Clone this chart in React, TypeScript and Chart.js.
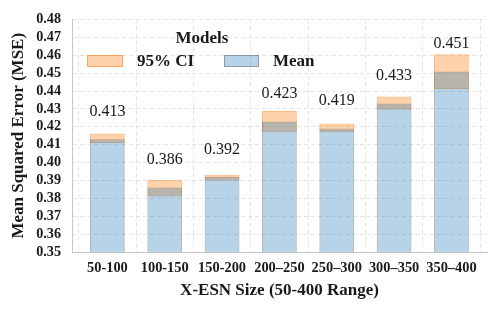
import { useEffect, useRef } from 'react';
import { Chart, registerables } from 'chart.js';

Chart.register(...registerables);

const categories = ['50-100', '100-150', '150-200', '200–250', '250–300', '300–350', '350–400'];
const meanValues = [0.413, 0.386, 0.392, 0.423, 0.419, 0.433, 0.451];
const ciLow = [0.411, 0.381, 0.3898, 0.417, 0.417, 0.4295, 0.4412];
const ciHigh = [0.4162, 0.3904, 0.3932, 0.4289, 0.4219, 0.4369, 0.4606];
const yMin = 0.35;
const yMax = 0.48;
const yStep = 0.01;
const legendTitle = 'Models';
const ciLabel = '95% CI';
const meanLabel = 'Mean';
const xTitle = 'X-ESN Size (50-400 Range)';
const yTitle = 'Mean Squared Error (MSE)';

const FONT = "'Liberation Serif', 'Times New Roman', serif";
const TEXT = '#1a1a1a';
const BLUE_FILL = 'rgba(31,119,180,0.32)';
const BLUE_EDGE = 'rgba(90,90,90,0.45)';
const ORANGE_FILL = 'rgba(255,127,14,0.35)';
const ORANGE_EDGE = 'rgba(245,130,30,0.55)';
const GRID = '#e4e4e4';
const SPINE = '#c6c6c6';

const valueLabels = {
  id: 'valueLabels',
  afterDatasetsDraw(chart: any) {
    const { ctx, scales } = chart;
    ctx.save();
    ctx.font = `16px ${FONT}`;
    ctx.fillStyle = TEXT;
    ctx.textAlign = 'center';
    ctx.textBaseline = 'middle';
    meanValues.forEach((v, i) => {
      const x = scales.x.getPixelForValue(i);
      const y = scales.y.getPixelForValue(v + 0.0153);
      ctx.fillText(v.toFixed(3), x, y);
    });
    ctx.restore();
  },
};

const insideLegend = {
  id: 'insideLegend',
  afterDraw(chart: any) {
    const { ctx } = chart;
    ctx.save();
    ctx.fillStyle = TEXT;
    ctx.font = `bold 17px ${FONT}`;
    ctx.textAlign = 'center';
    ctx.textBaseline = 'middle';
    ctx.fillText(legendTitle, 202, 38.5);

    ctx.lineWidth = 1;
    ctx.fillStyle = ORANGE_FILL;
    ctx.fillRect(87, 55, 36, 12);
    ctx.strokeStyle = ORANGE_EDGE;
    ctx.strokeRect(87.5, 55.5, 35, 11);

    ctx.fillStyle = BLUE_FILL;
    ctx.fillRect(224, 55, 35, 12);
    ctx.strokeStyle = BLUE_EDGE;
    ctx.strokeRect(224.5, 55.5, 34, 11);

    ctx.fillStyle = TEXT;
    ctx.font = `bold 17px ${FONT}`;
    ctx.textAlign = 'left';
    ctx.fillText(ciLabel, 137, 62);
    ctx.fillText(meanLabel, 273, 62);
    ctx.restore();
  },
};

export default function App() {
  const ref = useRef<HTMLCanvasElement>(null);

  useEffect(() => {
    document.body.style.margin = '0';
    const canvas = ref.current;
    if (!canvas) return;
    const chart = new Chart(canvas, {
      type: 'bar',
      data: {
        datasets: [
          {
            label: meanLabel,
            data: meanValues.map((v, i) => ({ x: i, y: v })) as any,
            backgroundColor: BLUE_FILL,
            borderColor: BLUE_EDGE,
            borderWidth: 1,
            borderSkipped: false,
            grouped: false,
            barPercentage: 0.607,
            categoryPercentage: 1,
          } as any,
          {
            label: ciLabel,
            data: ciLow.map((lo, i) => ({ x: i, y: [lo, ciHigh[i]] })) as any,
            backgroundColor: ORANGE_FILL,
            borderColor: ORANGE_EDGE,
            borderWidth: 1,
            borderSkipped: false,
            grouped: false,
            barPercentage: 0.607,
            categoryPercentage: 1,
          } as any,
        ],
      },
      options: {
        animation: false,
        responsive: false,
        devicePixelRatio: 1,
        layout: { padding: { left: 0, right: 11, top: 17, bottom: 0 } },
        plugins: {
          legend: { display: false },
          tooltip: { enabled: false },
        },
        scales: {
          x: {
            type: 'linear',
            min: -0.617,
            max: 6.62,
            offset: false,
            ticks: {
              stepSize: 1,
              includeBounds: false,
              autoSkip: false,
              maxRotation: 0,
              padding: 8,
              color: TEXT,
              font: { family: FONT, size: 14.4, weight: 'bold' },
              callback: (v: any) => categories[Math.round(Number(v))] ?? '',
            },
            grid: { color: GRID, lineWidth: 1, drawTicks: false },
            border: { display: true, color: SPINE, width: 1, dash: [4, 3] },
            title: {
              display: true,
              text: xTitle,
              color: TEXT,
              font: { family: FONT, size: 17, weight: 'bold' },
              padding: { top: 0, bottom: 11 },
            },
            afterFit: (s: any) => {
              s.height = 60;
            },
          } as any,
          y: {
            min: yMin,
            max: yMax,
            ticks: {
              stepSize: yStep,
              autoSkip: false,
              padding: 11,
              color: TEXT,
              font: { family: FONT, size: 14.2, weight: 'bold' },
              callback: (v: any) => Number(v).toFixed(2),
            },
            grid: { color: GRID, lineWidth: 1, drawTicks: false },
            border: { display: true, color: SPINE, width: 1, dash: [4, 3] },
            title: {
              display: true,
              text: yTitle,
              color: TEXT,
              font: { family: FONT, size: 17, weight: 'bold' },
              padding: { top: 8, bottom: 0 },
            },
            afterFit: (s: any) => {
              s.width = 72;
            },
          } as any,
        },
      },
      plugins: [valueLabels, insideLegend],
    });
    return () => chart.destroy();
  }, []);

  return (
    <div style={{ position: 'absolute', left: 0, top: 0, width: 498, height: 312, background: '#fff' }}>
      <canvas ref={ref} width={498} height={312} style={{ display: 'block', width: 498, height: 312 }} />
    </div>
  );
}
